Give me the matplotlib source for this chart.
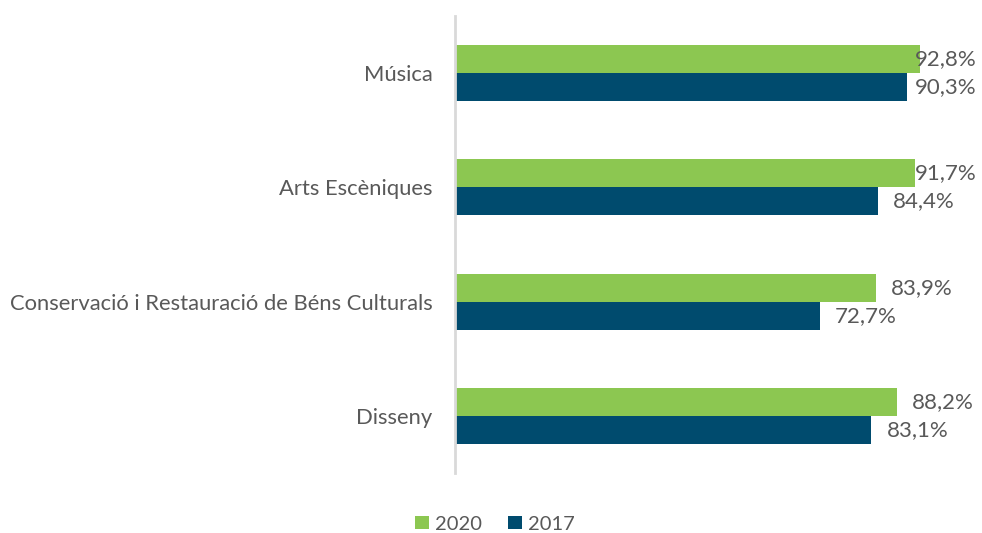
import matplotlib
matplotlib.use("Agg")
import matplotlib.pyplot as plt
from matplotlib.patches import Patch
import numpy as np

categories = ["Música", "Arts Escèniques", "Conservació i Restauració de Béns Culturals", "Disseny"]
values_2020 = [92.8, 91.7, 83.9, 88.2]
values_2017 = [90.3, 84.4, 72.7, 83.1]
series_names = ["2020", "2017"]

GREEN = "#8CC751"
BLUE = "#004B6E"
TEXT = "#595959"

plt.rcParams['font.family'] = ['Lato', 'DejaVu Sans']

DPI = 100
fig = plt.figure(figsize=(9.82, 5.33), dpi=DPI)
ax = fig.add_axes([456/982, (533-473)/533, 500/982, 457/533])

y = np.arange(len(categories))
h = 0.245
ax.barh(y - h/2, values_2020, height=h, color=GREEN, label=series_names[0])
ax.barh(y + h/2, values_2017, height=h, color=BLUE, label=series_names[1])

OFFSET_PT = 10.8
labels = []
for yi, v in zip(y, values_2020):
    labels.append(ax.annotate(f"{v:.1f}%".replace(".", ","), (v, yi - h/2), xytext=(OFFSET_PT, 0),
                              textcoords="offset points", va="center", ha="left",
                              fontsize=16, color=TEXT))
for yi, v in zip(y, values_2017):
    labels.append(ax.annotate(f"{v:.1f}%".replace(".", ","), (v, yi + h/2), xytext=(OFFSET_PT, 0),
                              textcoords="offset points", va="center", ha="left",
                              fontsize=16, color=TEXT))

ax.set_xlim(0, 100)
ax.set_ylim(len(categories) - 0.5, -0.5)
ax.set_yticks(y)
ax.set_yticklabels(categories)
ax.tick_params(axis='y', length=0, pad=16, labelsize=15.8, labelcolor=TEXT)
ax.set_xticks([])
for s in ["top", "right", "bottom"]:
    ax.spines[s].set_visible(False)
ax.spines["left"].set_color("#D9D9D9")
ax.spines["left"].set_linewidth(2)
ax.spines["left"].set_position(("outward", 1))

handles = [Patch(facecolor=GREEN, label=series_names[0]),
           Patch(facecolor=BLUE, label=series_names[1])]
fig.legend(handles=handles, loc="center", bbox_to_anchor=(495/982, 1 - 524/533),
           ncol=2, frameon=False, fontsize=14.5, labelcolor=TEXT,
           handlelength=0.7, handleheight=0.6, handletextpad=0.3, columnspacing=1.3)

# keep labels inside the figure (as the original chart nudges them left)
fig.canvas.draw()
renderer = fig.canvas.get_renderer()
limit_px = 977
for t in labels:
    ext = t.get_window_extent(renderer)
    if ext.x1 > limit_px:
        shift_pt = (ext.x1 - limit_px) * 72 / DPI
        t.set_position((OFFSET_PT - shift_pt, 0))

fig.savefig("out.png", dpi=DPI)
